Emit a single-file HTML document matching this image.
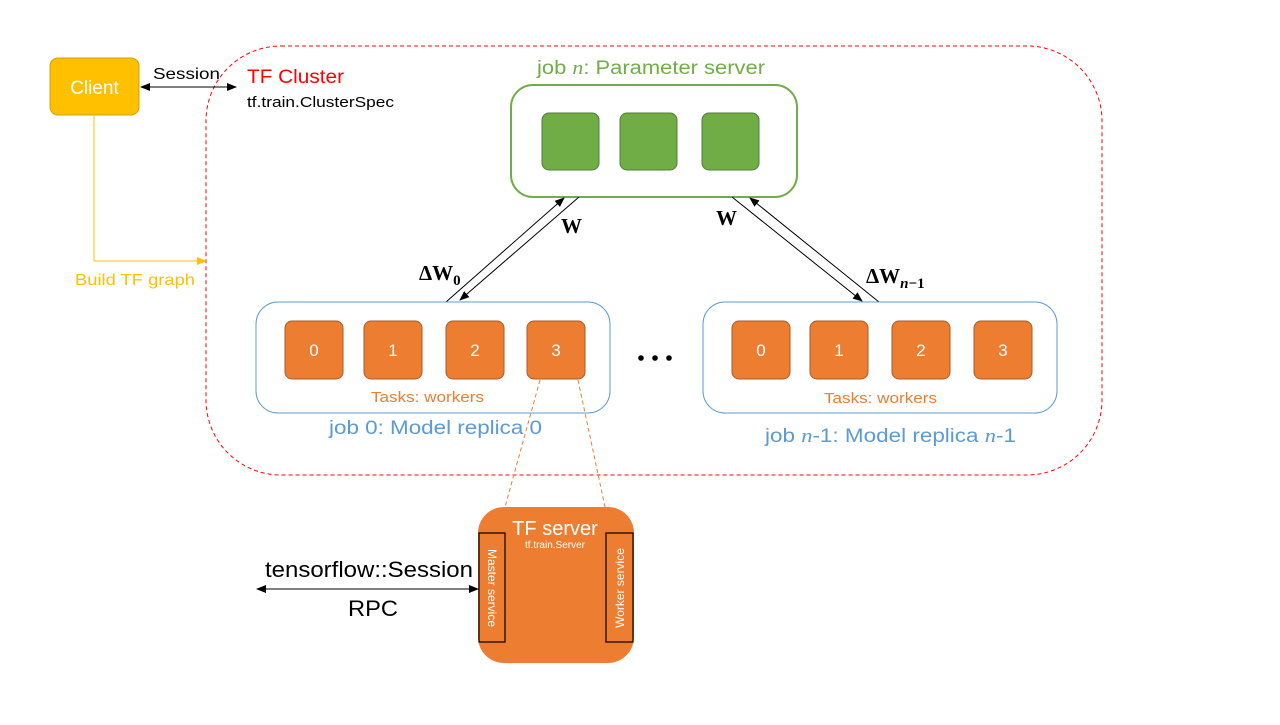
<!DOCTYPE html>
<html><head><meta charset="utf-8"><style>
body{margin:0;background:#fff;}
</style></head><body>
<svg width="1280" height="720" viewBox="0 0 1280 720" xmlns="http://www.w3.org/2000/svg" font-family="Liberation Sans, sans-serif">
<defs>
<marker id="ah" markerWidth="10" markerHeight="8" refX="9" refY="4" orient="auto-start-reverse" markerUnits="userSpaceOnUse"><path d="M0,0 L10,4 L0,8 z" fill="#000"/></marker>
<marker id="ahy" markerWidth="10" markerHeight="8" refX="9" refY="4" orient="auto" markerUnits="userSpaceOnUse"><path d="M0,0 L10,4 L0,8 z" fill="#FFC000"/></marker>
</defs>
<rect width="1280" height="720" fill="#fff"/>
<rect x="206" y="46" width="896" height="429" rx="75" fill="none" stroke="#FF0000" stroke-dasharray="4,3" stroke-width="1"/>
<rect x="50" y="58" width="89" height="57" rx="8" fill="#FFC000" stroke="#D4A100"/>
<text x="94.5" y="94" font-size="19" fill="#fff" text-anchor="middle">Client</text>
<line x1="141" y1="87" x2="236" y2="87" stroke="#000" marker-end="url(#ah)" marker-start="url(#ah)"/>
<text x="153" y="79" font-size="16" textLength="67" lengthAdjust="spacingAndGlyphs">Session</text>
<text x="247" y="83" font-size="19" fill="#FF0000" textLength="97" lengthAdjust="spacingAndGlyphs">TF Cluster</text>
<text x="247" y="107" font-size="15" textLength="147" lengthAdjust="spacingAndGlyphs">tf.train.ClusterSpec</text>
<polyline points="94,115 94,261 206,261" fill="none" stroke="#FFC000" marker-end="url(#ahy)"/>
<text x="75" y="285" font-size="16" fill="#FFC000" textLength="120" lengthAdjust="spacingAndGlyphs">Build TF graph</text>
<text x="537" y="74" font-size="19" fill="#70AD47" textLength="228" lengthAdjust="spacingAndGlyphs">job <tspan style="font-family:'Liberation Serif',serif;font-style:italic">n</tspan>: Parameter server</text>
<rect x="511" y="85" width="286" height="112" rx="22" fill="#fff" stroke="#70AD47" stroke-width="2"/>
<rect x="542" y="113" width="57" height="57" rx="7" fill="#70AD47" stroke="#507E32"/>
<rect x="620" y="113" width="57" height="57" rx="7" fill="#70AD47" stroke="#507E32"/>
<rect x="702" y="113" width="57" height="57" rx="7" fill="#70AD47" stroke="#507E32"/>
<line x1="446" y1="302" x2="564" y2="198" stroke="#000" marker-end="url(#ah)"/>
<line x1="579" y1="197" x2="460" y2="300" stroke="#000" marker-end="url(#ah)"/>
<line x1="732" y1="197" x2="862" y2="301" stroke="#000" marker-end="url(#ah)"/>
<line x1="879" y1="302" x2="750" y2="198" stroke="#000" marker-end="url(#ah)"/>
<g style="font-family:'Liberation Serif',serif;font-weight:bold">
<text x="561" y="233" font-size="21">W</text>
<text x="716" y="225" font-size="21">W</text>
<text x="419" y="280" font-size="21">ΔW<tspan font-size="15" dy="5">0</tspan></text>
<text x="866" y="283" font-size="21">ΔW<tspan font-size="15" dy="5" font-style="italic">n</tspan><tspan font-size="15">−1</tspan></text>
</g>
<rect x="256" y="302" width="354" height="111" rx="22" fill="#fff" stroke="#5B9BD5"/>
<rect x="703" y="302" width="354" height="111" rx="22" fill="#fff" stroke="#5B9BD5"/>
<g font-size="17" fill="#fff" text-anchor="middle">
<rect x="285" y="321" width="58" height="58" rx="7" fill="#ED7D31" stroke="#AE5A21"/><text x="314" y="356">0</text>
<rect x="364" y="321" width="58" height="58" rx="7" fill="#ED7D31" stroke="#AE5A21"/><text x="393" y="356">1</text>
<rect x="446" y="321" width="58" height="58" rx="7" fill="#ED7D31" stroke="#AE5A21"/><text x="475" y="356">2</text>
<rect x="527" y="321" width="58" height="58" rx="7" fill="#ED7D31" stroke="#AE5A21"/><text x="556" y="356">3</text>
<rect x="732" y="321" width="58" height="58" rx="7" fill="#ED7D31" stroke="#AE5A21"/><text x="761" y="356">0</text>
<rect x="810" y="321" width="58" height="58" rx="7" fill="#ED7D31" stroke="#AE5A21"/><text x="839" y="356">1</text>
<rect x="892" y="321" width="58" height="58" rx="7" fill="#ED7D31" stroke="#AE5A21"/><text x="921" y="356">2</text>
<rect x="974" y="321" width="58" height="58" rx="7" fill="#ED7D31" stroke="#AE5A21"/><text x="1003" y="356">3</text>
</g>
<text x="371" y="402" font-size="15" fill="#ED7D31" textLength="113" lengthAdjust="spacingAndGlyphs">Tasks: workers</text>
<text x="824" y="403" font-size="15" fill="#ED7D31" textLength="113" lengthAdjust="spacingAndGlyphs">Tasks: workers</text>
<text x="329" y="434" font-size="19" fill="#5B9BD5" textLength="213" lengthAdjust="spacingAndGlyphs">job 0: Model replica 0</text>
<text x="765" y="442" font-size="19" fill="#5B9BD5" textLength="251" lengthAdjust="spacingAndGlyphs">job <tspan style="font-family:'Liberation Serif',serif;font-style:italic">n</tspan>-1: Model replica <tspan style="font-family:'Liberation Serif',serif;font-style:italic">n</tspan>-1</text>
<g fill="#000"><circle cx="641" cy="358" r="2.8"/><circle cx="655" cy="358" r="2.8"/><circle cx="669" cy="358" r="2.8"/></g>
<line x1="540" y1="380" x2="505" y2="507" stroke="#ED7D31" stroke-dasharray="4,3"/>
<line x1="578" y1="380" x2="605" y2="507" stroke="#ED7D31" stroke-dasharray="4,3"/>
<rect x="478" y="507" width="156" height="156" rx="26" fill="#ED7D31"/>
<text x="555" y="535" font-size="20" fill="#fff" text-anchor="middle">TF server</text>
<text x="555" y="548" font-size="10" fill="#fff" text-anchor="middle">tf.train.Server</text>
<rect x="479" y="533" width="26" height="109" fill="none" stroke="#000" stroke-width="1.2"/>
<rect x="606" y="533" width="27" height="109" fill="none" stroke="#000" stroke-width="1.2"/>
<text transform="translate(488,588) rotate(90)" font-size="12" fill="#fff" text-anchor="middle">Master service</text>
<text transform="translate(624,588) rotate(-90)" font-size="12" fill="#fff" text-anchor="middle">Worker service</text>
<line x1="257" y1="589" x2="478" y2="589" stroke="#000" marker-end="url(#ah)" marker-start="url(#ah)"/>
<text x="265" y="577" font-size="22" textLength="208" lengthAdjust="spacingAndGlyphs">tensorflow::Session</text>
<text x="348" y="616" font-size="22" textLength="50" lengthAdjust="spacingAndGlyphs">RPC</text>
</svg>
</body></html>
